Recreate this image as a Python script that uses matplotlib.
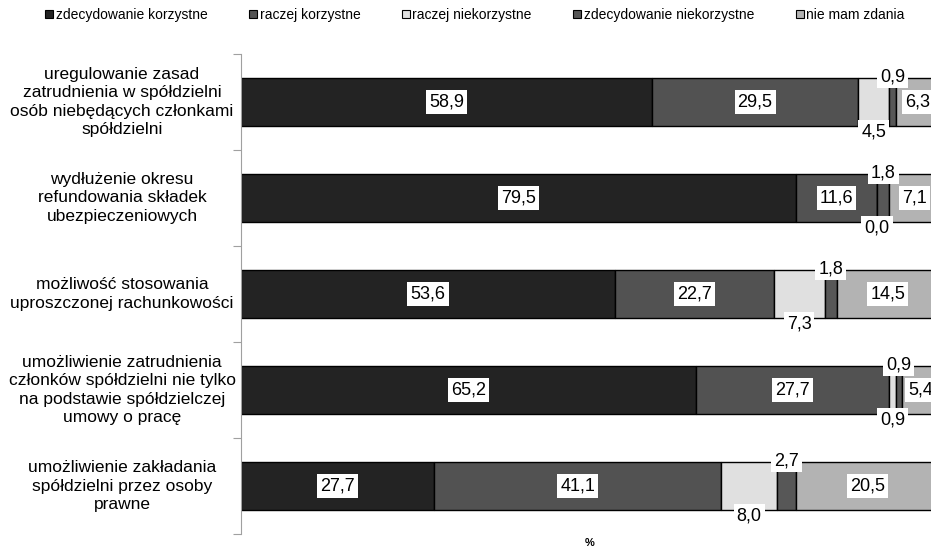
import matplotlib.pyplot as plt
from matplotlib.patches import Patch
from matplotlib.transforms import blended_transform_factory

plt.rcParams['font.family'] = ['Liberation Sans', 'DejaVu Sans']

# dane
kategorie = [
    'uregulowanie zasad\nzatrudnienia w spółdzielni\nosób niebędących członkami\nspółdzielni',
    'wydłużenie okresu\nrefundowania składek\nubezpieczeniowych',
    'możliwość stosowania\nuproszczonej rachunkowości',
    'umożliwienie zatrudnienia\nczłonków spółdzielni nie tylko\nna podstawie spółdzielczej\numowy o pracę',
    'umożliwienie zakładania\nspółdzielni przez osoby\nprawne',
]
serie = ['zdecydowanie korzystne', 'raczej korzystne', 'raczej niekorzystne',
         'zdecydowanie niekorzystne', 'nie mam zdania']
zdec_korzystne = [58.9, 79.5, 53.6, 65.2, 27.7]
raczej_korzystne = [29.5, 11.6, 22.7, 27.7, 41.1]
raczej_niekorzystne = [4.5, 0.0, 7.3, 0.9, 8.0]
zdec_niekorzystne = [0.9, 1.8, 1.8, 0.9, 2.7]
brak_zdania = [6.3, 7.1, 14.5, 5.4, 20.5]

wartosci = [zdec_korzystne, raczej_korzystne, raczej_niekorzystne,
            zdec_niekorzystne, brak_zdania]
kolory = ['#232323', '#525252', '#e0e0e0', '#575757', '#b3b3b3']
# gdzie stoi etykieta: w środku, pod słupkiem, nad słupkiem
polozenie = ['in', 'in', 'below', 'above', 'in']

fig = plt.figure(figsize=(9.31, 5.48), dpi=100)
ax = fig.add_axes([241 / 931, 1 - 534 / 548, 698 / 931, 480 / 548])

y = list(range(len(kategorie)))
lewo = [0.0] * len(kategorie)
for nazwa, vals, kol, gdzie in zip(serie, wartosci, kolory, polozenie):
    ax.barh(y, vals, left=lewo, height=0.5, color=kol, edgecolor='black',
            linewidth=1, label=nazwa)
    for i, v in enumerate(vals):
        xc = lewo[i] + v / 2
        yc = y[i]
        if gdzie == 'below':
            yc = y[i] + 0.31
        elif gdzie == 'above':
            yc = y[i] - 0.265
        ax.text(xc, yc, f'{v:.1f}'.replace('.', ','), ha='center', va='center',
                fontsize=13, clip_on=False,
                bbox=dict(boxstyle='square,pad=0.17', fc='white', ec='none'))
    lewo = [a + b for a, b in zip(lewo, vals)]

ax.set_xlim(0, 100)
ax.set_ylim(len(kategorie) - 0.5, -0.5)

# osie
for s in ['top', 'right', 'bottom']:
    ax.spines[s].set_visible(False)
ax.spines['left'].set_color('#a0a0a0')
ax.set_xticks([])
ax.set_yticks([i - 0.5 for i in range(len(kategorie) + 1)])
ax.set_yticklabels([])
ax.tick_params(axis='y', which='major', length=6, color='#a0a0a0')

tr = blended_transform_factory(fig.transFigure, ax.transData)
for i, k in enumerate(kategorie):
    ax.text(122 / 931, i, k, transform=tr, ha='center', va='center',
            fontsize=12.5, linespacing=1.28, multialignment='center')

fig.text(590 / 931, 1 - 543 / 548, '%', ha='center', va='center',
         fontsize=8, fontweight='bold')

uchwyty = [Patch(facecolor=k, edgecolor='black', linewidth=0.8) for k in kolory]
fig.legend(uchwyty, serie, loc='center', bbox_to_anchor=(475 / 931, 1 - 15 / 548),
           ncol=5, frameon=False, handlelength=0.55, handleheight=0.55,
           handletextpad=0.2, columnspacing=3.0,
           prop={'family': ['Liberation Sans Narrow', 'Liberation Sans'], 'size': 10})

fig.savefig('out.png', dpi=100)
